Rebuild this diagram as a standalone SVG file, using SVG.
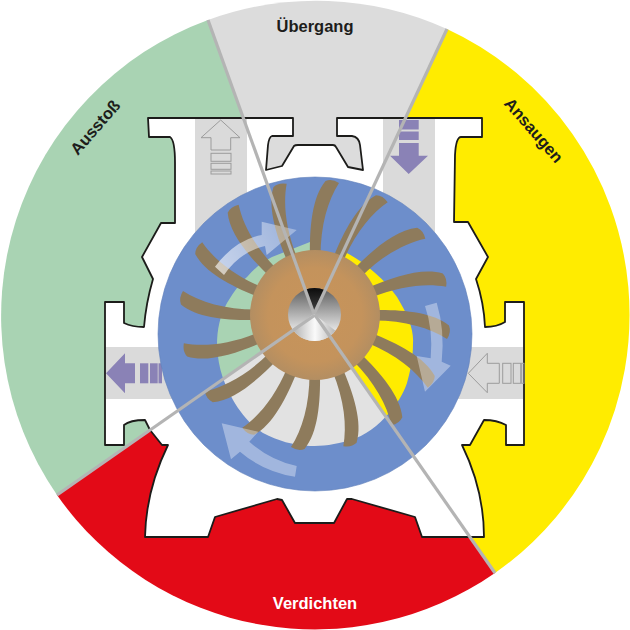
<svg xmlns="http://www.w3.org/2000/svg" width="630" height="630" viewBox="0 0 630 630">
<style>
.lbl{font-family:"Liberation Sans",Arial,sans-serif;font-weight:700;font-size:16.5px;text-anchor:middle;fill:#1d1d1b}
.out{fill:none;stroke:#9c9c9c;stroke-width:1}
.pur{fill:#8a82b6}
.chan{fill:#dadada}
.sl{stroke:#b4b4b4;stroke-width:3.2;fill:none}
.flow{fill:#fff;fill-opacity:.36}
</style>
<defs>
<clipPath id="pk"><path d="M345,252 C365,262 385,280 397,297 C408,315 414,330 413,343 C413,360 410,372 407,383 C403,395 397,403 390,412 C378,426 365,436 350,440 C335,445 322,446 310,446 C293,445 278,441 263,433 C250,425 240,412 233,400 C225,385 218,370 217,345 C217,330 220,315 227,303 C235,290 240,283 247,277 C255,268 262,262 272,257 L315,240 Z"/></clipPath>
<clipPath id="sh"><circle cx="314.5" cy="314.5" r="26.5"/></clipPath>
<radialGradient id="hubg" gradientUnits="userSpaceOnUse" cx="315" cy="315" r="65"><stop offset="0" stop-color="#c8945a"/><stop offset=".72" stop-color="#c4935c"/><stop offset="1" stop-color="#b38e62"/></radialGradient>
<linearGradient id="sg1" gradientUnits="userSpaceOnUse" x1="0" y1="288" x2="0" y2="330"><stop offset="0" stop-color="#5d5d5d"/><stop offset="1" stop-color="#e4e4e4"/></linearGradient>
<linearGradient id="sg2" gradientUnits="userSpaceOnUse" x1="0" y1="288" x2="0" y2="315"><stop offset="0" stop-color="#0c0c0c"/><stop offset="1" stop-color="#4a4a4a"/></linearGradient>
<linearGradient id="sg3" gradientUnits="userSpaceOnUse" x1="290" y1="0" x2="340" y2="0"><stop offset="0" stop-color="#a8a8a8"/><stop offset=".5" stop-color="#fafafa"/><stop offset="1" stop-color="#a8a8a8"/></linearGradient>
<linearGradient id="ag" gradientUnits="userSpaceOnUse" x1="218" y1="270" x2="290" y2="232"><stop offset="0" stop-color="#fff" stop-opacity=".62"/><stop offset="1" stop-color="#fff" stop-opacity=".34"/></linearGradient>
<path id="blade" d="M310,256 C309.5,228 312,197 325.5,181 Q332,178.5 339,183 C328,200 320.5,225 320.5,256 Z" fill="#8e7b5c"/>
</defs>

<g id="sectors">
<path id="sec-ausstoss" fill="#a9d3b3" d="M315,315 L57,495 A315,315 0 0 1 208,20 Z"/>
<path id="sec-uebergang" fill="#dcdcdc" d="M315,315 L208,20 A315,315 0 0 1 447,29 Z"/>
<path id="sec-ansaugen" fill="#ffec00" d="M315,315 L447,29 A315,315 0 0 1 495,573 Z"/>
<path id="sec-verdichten" fill="#e30a17" d="M315,315 L495,573 A315,315 0 0 1 57,495 Z"/>
</g>

<g id="housing">
<path fill="#fff" stroke="#1c1c1a" stroke-width="1.8" stroke-linejoin="round" d="M148,118 H293 V136 H272 Q269,137 268,145 L266,170 L282,166 L294,146 Q295,145 298,145 L333,145 Q335,145 336,147 L348,167 L363,170 L360,145 Q359,137 352,136 H337 V118 H482 V137 H461 Q456,137 455,155 L454,222 H468 L488,257 L476,279 Q484,303 485,327 Q497,327 505,322 V302 H524 V445 H506 V425 Q497,420 484,420 L470,445 H462 Q484,490 484,537 H422 L415,517 L352,499 H347 L334,523 H295 L282,500 L277,499 L215,517 L208,537 H145 Q146,490 168,445 H162 L150,430 L145,420 Q130,420 124,425 V445 H105 V302 H124 V323 Q132,327 144,327 Q146,303 153,279 L142,257 L161,223 H175 V163 Q175,140 170,137 H149 Z"/>
<rect class="chan" x="195" y="119" width="52" height="130"/>
<rect class="chan" x="383" y="119" width="52" height="130"/>
<rect class="chan" x="106" y="347" width="134" height="52"/>
<rect class="chan" x="400" y="347" width="123" height="52"/>
</g>

<g id="port-arrows">
<g id="arrow-top-left" class="out">
<path d="M220.7,120 L240,137.7 H230.7 V150 H211 V137.7 H201 Z"/>
<rect x="211" y="153.3" width="20" height="8"/><rect x="211" y="163.3" width="20" height="6"/><rect x="211" y="171" width="20" height="3"/>
</g>
<g id="arrow-top-right" class="pur">
<path d="M408.7,174 L390,155.7 H399 V143 H418.7 V155.7 H428 Z"/>
<rect x="399" y="131.5" width="19.7" height="8.5"/><rect x="399" y="120" width="19.7" height="9.5"/>
</g>
<g id="arrow-left" class="pur">
<path d="M106,373.3 L125,353.3 V363.3 H135 V383.3 H125 V393.3 Z"/>
<rect x="140" y="363.3" width="8.3" height="20"/><rect x="150" y="363.3" width="7.7" height="20"/><rect x="158.5" y="363.3" width="3.5" height="20"/>
</g>
<g id="arrow-right" class="out">
<path d="M468.3,373.3 L487.3,353.3 V363.3 H499.3 V383.3 H487.3 V392.7 Z"/>
<rect x="502.7" y="363.3" width="8.3" height="20"/><rect x="513.3" y="363.3" width="7.4" height="20"/><rect x="521.7" y="363.3" width="2.3" height="20"/>
</g>
</g>

<g id="rotor">
<circle cx="315" cy="334" r="157" fill="#6d8ecb" stroke="#5f80bb" stroke-width=".6"/>
<g clip-path="url(#pk)">
<path fill="#a9d3b3" d="M315,315 L57,495 V135 H315 Z"/>
<path fill="#ffec00" d="M315,315 L447,29 H570 V500 L495,573 Z"/>
<path fill="#e2e2e2" d="M315,315 L495,573 H57 V495 Z"/>
</g>
<g id="blades">
<use href="#blade"/>
<use href="#blade" transform="rotate(22.5 315 315)"/>
<use href="#blade" transform="rotate(45 315 315)"/>
<use href="#blade" transform="rotate(67.5 315 315)"/>
<use href="#blade" transform="rotate(90 315 315)"/>
<use href="#blade" transform="rotate(112.5 315 315)"/>
<use href="#blade" transform="rotate(135 315 315)"/>
<use href="#blade" transform="rotate(157.5 315 315)"/>
<use href="#blade" transform="rotate(180 315 315)"/>
<use href="#blade" transform="rotate(202.5 315 315)"/>
<use href="#blade" transform="rotate(225 315 315)"/>
<use href="#blade" transform="rotate(247.5 315 315)"/>
<use href="#blade" transform="rotate(270 315 315)"/>
<use href="#blade" transform="rotate(292.5 315 315)"/>
<use href="#blade" transform="rotate(315 315 315)"/>
<use href="#blade" transform="rotate(337.5 315 315)"/>
</g>
<circle id="hub" cx="315" cy="315" r="65" fill="url(#hubg)"/>
<g id="shaft" clip-path="url(#sh)">
<rect x="285" y="285" width="60" height="60" fill="url(#sg1)"/>
<path fill="url(#sg2)" d="M314,314 L300,275 H334 Z"/>
<path fill="url(#sg3)" d="M314,314 L280,338 V350 H350 V342 Z"/>
</g>
<path style="fill:url(#ag)" d="M215,266.7 Q235,240 261.7,235 L261.7,221.7 L296.7,230 L266.7,255 L265,246 Q240,251.7 224,275 Z"/>
<path class="flow" d="M425,306 L436.7,302.7 Q445,330 441.7,361.7 L450.7,365.7 L425,391.7 L416.7,356 L430.7,358.3 Q433.3,330 425,306 Z"/>
<path class="flow" d="M296.7,466 L295,476.7 Q263.3,471.7 240,451.7 L231,459.3 L221.7,423.3 L258.3,431.7 L249.3,441.7 Q270,460 296.7,466 Z"/>
</g>

<g id="sector-lines">
<path class="sl" d="M208,20 L314,314"/>
<path class="sl" d="M447,29 L314,314"/>
<path class="sl" d="M495,573 L315,315"/>
<path class="sl" d="M57,495 L315,315"/>
</g>

<g id="labels">
<text class="lbl" x="315" y="32">Übergang</text>
<text class="lbl" transform="translate(99.5,131) rotate(-49)">Ausstoß</text>
<text class="lbl" transform="translate(529.5,134) rotate(49)">Ansaugen</text>
<text class="lbl" style="fill:#fff" x="315" y="608.5">Verdichten</text>
</g>
</svg>
